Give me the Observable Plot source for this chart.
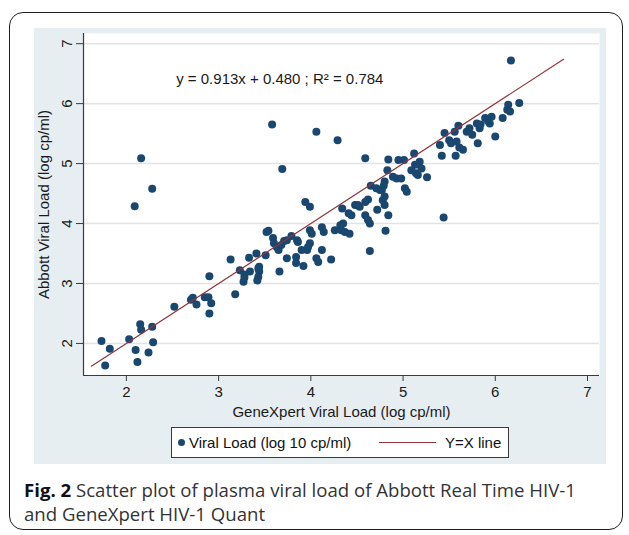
<!DOCTYPE html>
<html>
<head>
<meta charset="utf-8">
<script src="https://cdn.jsdelivr.net/npm/d3@7"></script>
<script src="https://cdn.jsdelivr.net/npm/@observablehq/plot@0.6"></script>
<style>
  body { margin: 0; background: #fff; }
  #wrap { position: relative; width: 629px; height: 535px; overflow: hidden; background: #fff; }
  #border { position: absolute; left: 9px; top: 12px; width: 614px; height: 518px; border: 1.6px solid #1e1e1e; border-radius: 14px; box-sizing: border-box; }
  #panel { position: absolute; left: 34px; top: 28px; width: 572px; height: 436px; background: #e7eef2; }
  #chart { position: absolute; left: 0; top: 0; }
  #legend { position: absolute; left: 171px; top: 427px; width: 338px; height: 31px; box-sizing: border-box; border: 1px solid #3a3a3a; background: #fff;
            font-family: "Liberation Sans", Arial, sans-serif; font-size: 15px; color: #111; }
  #legend span { position: absolute; top: 6px; white-space: nowrap; }
  #legend .dot { position: absolute; left: 6px; top: 11px; width: 7px; height: 7px; border-radius: 50%; background: #1a476f; }
  #legend .ln { position: absolute; left: 207px; top: 14px; width: 57px; height: 0; border-top: 1.3px solid #90353b; }
  #caption { position: absolute; left: 24px; top: 478px; width: 598px; font-family: "Open Sans", "Noto Sans", sans-serif; font-size: 18.6px; line-height: 24px; color: #333; white-space: nowrap; }
  #caption b { color: #111; }
</style>
</head>
<body>
<div id="wrap">
  <div id="border"></div>
  <div id="panel"></div>
  <div id="chart"></div>
  <div id="legend"></div>
  <div id="caption"></div>
</div>
<script>
// ---- data ----
const geneXpert = [1.73,1.82,1.77,2.03,2.15,2.16,2.10,2.12,2.24,2.28,2.29,2.52,2.70,2.72,2.76,2.85,2.89,2.92,2.90,2.90,
  3.13,3.18,3.28,3.27,3.28,3.33,3.34,3.41,3.44,3.44,3.43,3.42,3.51,3.52,3.54,3.59,3.60,3.63,3.65,3.68,
  3.66,3.71,3.74,3.79,3.84,3.84,3.85,3.94,3.99,3.92,3.99,4.01,3.97,3.99,3.96,3.90,4.06,4.08,4.12,4.12,
  4.14,4.22,4.26,4.32,4.35,4.37,4.42,4.33,4.34,4.41,4.44,4.48,4.51,4.59,4.62,4.64,4.62,4.64,4.65,4.72,
  4.78,4.80,4.84,4.81,4.71,4.75,4.80,4.83,4.89,4.93,5.02,5.04,5.09,5.14,4.84,4.95,5.01,5.12,5.13,5.16,
  5.18,5.20,5.26,5.40,5.42,5.45,5.50,5.52,5.56,5.58,5.60,5.61,5.65,5.57,5.69,5.72,5.75,5.80,5.81,5.83,
  5.84,5.89,5.92,5.96,5.94,6.00,6.08,6.13,6.14,6.16,6.17,6.26,5.44,3.58,4.06,4.29,3.69,4.59,2.16,2.28,
  2.09,3.23,3.43,3.74,3.86,4.59,4.53,4.80,4.77,4.98,4.79];
const abbott = [2.04,1.91,1.63,2.07,2.32,2.23,1.89,1.69,1.85,2.28,2.02,2.61,2.73,2.76,2.65,2.77,2.77,2.67,2.50,3.12,
  3.40,2.82,3.15,3.03,3.10,3.43,3.20,3.50,3.28,3.20,3.11,3.05,3.47,3.86,3.88,3.76,3.67,3.61,3.56,3.64,
  3.20,3.71,3.42,3.79,3.44,3.34,3.72,4.36,4.28,3.29,3.89,3.83,3.61,3.67,3.56,3.56,3.42,3.36,3.56,3.94,
  3.86,3.40,3.89,3.97,4.00,3.86,3.83,3.89,4.25,4.17,4.14,4.31,4.31,4.14,4.06,4.00,4.40,3.54,4.63,4.23,
  4.39,4.31,4.14,3.88,4.59,4.56,4.70,4.89,4.78,4.75,4.59,4.53,4.89,4.84,5.07,5.06,5.06,5.17,4.98,4.81,
  5.03,4.92,4.77,5.31,5.13,5.51,5.39,5.34,5.53,5.37,5.63,5.27,5.23,5.13,5.53,5.59,5.48,5.67,5.34,5.59,
  5.65,5.76,5.71,5.78,5.67,5.45,5.76,5.90,5.98,5.87,6.72,6.01,4.10,5.65,5.53,5.39,4.91,5.09,5.09,4.58,
  4.29,3.22,3.25,3.72,3.69,4.36,4.28,4.45,4.56,4.75,4.63];
const refLineEnds = [1.62, 6.74];           // Y = X line, from .. to
const xTicks = [2, 3, 4, 5, 6, 7];
const yTicks = [2, 3, 4, 5, 6, 7];
const xDomain = [1.535, 7.13];
const yDomain = [1.465, 7.17];
const equation = ["y = 0.913x + 0.480 ; R\u00b2 = 0.784"];
const equationPos = [2.54, 6.40];
const xTitle = "GeneXpert Viral Load (log cp/ml)";
const yTitle = "Abbott Viral Load (log cp/ml)";
const legendLabels = ["Viral Load (log 10 cp/ml)", "Y=X line"];
const captionBold = "Fig. 2";
const captionText = " Scatter plot of plasma viral load of Abbott Real Time HIV-1 and GeneXpert HIV-1 Quant";

// ---- build ----
const points = geneXpert.map((x, i) => ({x, y: abbott[i]}));
const refLine = refLineEnds.map(v => ({x: v, y: v}));
const navy = "#1a476f", maroon = "#90353b";
const font = "'Liberation Sans', Arial, sans-serif";

const chart = Plot.plot({
  width: 629, height: 425,
  marginLeft: 83, marginRight: 30, marginTop: 33, marginBottom: 50,
  x: {domain: xDomain},
  y: {domain: yDomain},
  style: {background: "transparent", fontFamily: font, fontSize: "15px", color: "#1a1a1a", overflow: "visible"},
  marks: [
    Plot.frame({fill: "white", stroke: null}),
    Plot.gridY(yTicks, {stroke: "#e3e3e3", strokeOpacity: 1, strokeWidth: 1.5}),
    Plot.dot(points, {x: "x", y: "y", r: 4, fill: navy, stroke: null}),
    Plot.line(refLine, {x: "x", y: "y", stroke: maroon, strokeWidth: 1.2}),
    Plot.ruleX([xDomain[0]], {stroke: "#3a3a3a", strokeWidth: 1.2}),
    Plot.ruleY([yDomain[0]], {stroke: "#3a3a3a", strokeWidth: 1.2}),
    Plot.axisX({ticks: xTicks, tickSize: 6, tickPadding: 5, tickFormat: d => String(d), label: null, fontSize: 15, stroke: "#3a3a3a"}),
    Plot.axisY({ticks: yTicks, tickSize: 7, text: null, label: null, stroke: "#3a3a3a"}),
    Plot.text(yTicks, {y: d => d, text: d => String(d), frameAnchor: "left", dx: -12, rotate: -90,
      lineAnchor: "bottom", textAnchor: "middle", fontSize: 15, fill: "#1a1a1a"}),
    Plot.text([yTitle], {frameAnchor: "left", dx: -39, rotate: -90, textAnchor: "middle", lineAnchor: "middle", fontSize: 15, fill: "#1a1a1a"}),
    Plot.text([xTitle], {frameAnchor: "bottom", dy: 37, textAnchor: "middle", lineAnchor: "middle", fontSize: 15, fill: "#1a1a1a"}),
    Plot.text(equation, {x: () => equationPos[0], y: () => equationPos[1], textAnchor: "start", fontSize: 15, fill: "#1a1a1a"})
  ]
});
document.getElementById("chart").appendChild(chart);

const legend = document.getElementById("legend");
legend.innerHTML = `<div class="dot"></div><span style="left:17px">${legendLabels[0]}</span>` +
  `<div class="ln"></div><span style="left:273px">${legendLabels[1]}</span>`;

document.getElementById("caption").innerHTML = `<b>${captionBold}</b>${captionText.replace(" and ", "<br>and ")}`;
</script>
</body>
</html>
